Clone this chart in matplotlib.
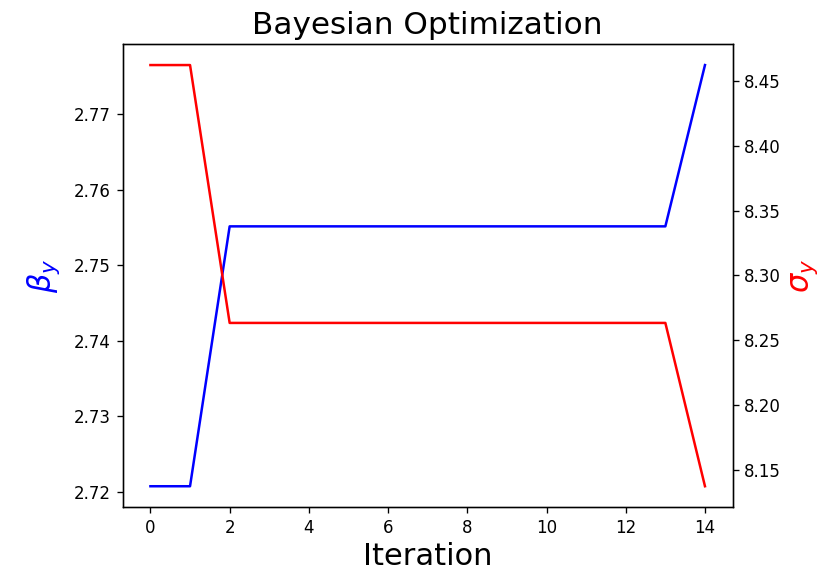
import matplotlib
matplotlib.use("Agg")
import matplotlib.pyplot as plt

# Optimisation history per iteration
iterations = list(range(15))
beta_y = [2.72075, 2.72075] + [2.75515] * 12 + [2.7765]
sigma_y = [8.4623, 8.4623] + [8.2632] * 12 + [8.1371]

W, H, DPI = 821, 570, 120
fig = plt.figure(figsize=(W / DPI, H / DPI), dpi=DPI)
ax1 = fig.add_axes([122.7 / W, 1 - 507.3 / H, (732.7 - 122.7) / W, (507.3 - 44) / H])

ax1.plot(iterations, beta_y, color="blue", lw=1.5)
ax1.set_xlabel("Iteration", fontsize=18.3, labelpad=3)
ax1.set_ylabel(r"$\beta_y$", color="blue", fontsize=18.3, labelpad=7)
ax1.set_title("Bayesian Optimization", fontsize=18.7)
ax1.set_xticks([0, 2, 4, 6, 8, 10, 12, 14])
ax1.set_yticks([2.72, 2.73, 2.74, 2.75, 2.76, 2.77])

ax2 = ax1.twinx()
ax2.plot(iterations, sigma_y, color="red", lw=1.5)
ax2.set_ylabel(r"$\sigma_y$", color="red", fontsize=18.3, labelpad=5)
ax2.set_yticks([8.15, 8.20, 8.25, 8.30, 8.35, 8.40, 8.45])

fig.savefig("out.png", dpi=DPI)
